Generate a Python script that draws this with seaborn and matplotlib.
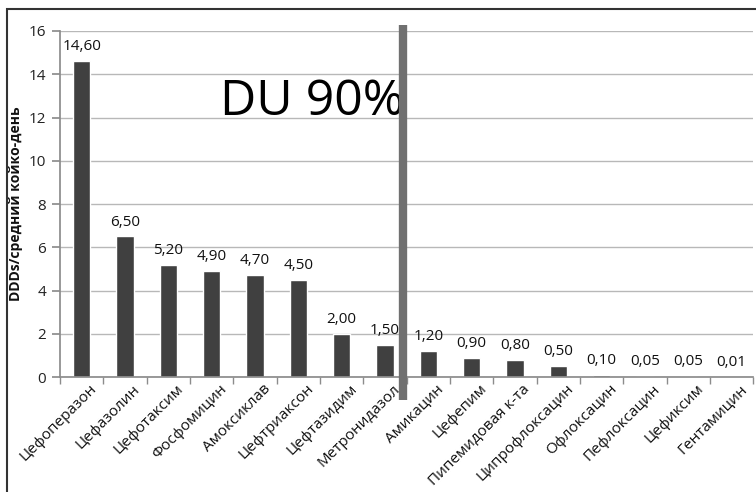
import numpy as np
import pandas as pd
import matplotlib
matplotlib.use("Agg")
import matplotlib.pyplot as plt
import matplotlib.patches as patches
import matplotlib.transforms as mtransforms
import seaborn as sns

# data
drugs = ["Цефоперазон", "Цефазолин", "Цефотаксим", "Фосфомицин", "Амоксиклав",
         "Цефтриаксон", "Цефтазидим", "Метронидазол", "Амикацин", "Цефепим",
         "Пипемидовая к-та", "Ципрофлоксацин", "Офлоксацин", "Пефлоксацин",
         "Цефиксим", "Гентамицин"]
ddd_values = [14.60, 6.50, 5.20, 4.90, 4.70, 4.50, 2.00, 1.50, 1.20, 0.90,
              0.80, 0.50, 0.10, 0.05, 0.05, 0.01]
y_ticks = [0, 2, 4, 6, 8, 10, 12, 14, 16]
du90_label = "DU 90%"
du90_pos = 7.42  # between Метронидазол and Амикацин

df = pd.DataFrame({"drug": drugs, "ddd": ddd_values})

sns.set_theme(style="white")
plt.rcParams["font.family"] = ["Open Sans", "DejaVu Sans"]

fig = plt.figure(figsize=(7.56, 4.92), dpi=100)
ax = fig.add_axes([0.0794, 0.2337, 0.917, 0.7033])

sns.barplot(data=df, x="drug", y="ddd", color="#404040", width=0.4,
            saturation=1, ax=ax)

# value labels with comma decimals
labels = [f"{v:.2f}".replace(".", ",") for v in ddd_values]
ax.bar_label(ax.containers[0], labels=labels, padding=5, fontsize=11,
             color="#111111")

ax.set_xlim(-0.5, len(drugs) - 0.5)
ax.set_ylim(0, 16)
ax.set_yticks(y_ticks)
ax.yaxis.grid(True, color="#b8b8b8", linewidth=1)
ax.set_axisbelow(True)

for s in ["top", "right"]:
    ax.spines[s].set_visible(False)
ax.spines["left"].set_color("#8c8c8c")
ax.spines["bottom"].set_color("#8c8c8c")

# ticks between categories
ax.set_xticks(np.arange(-0.5, len(drugs)), minor=True)
ax.tick_params(axis="x", which="minor", length=5, color="#8c8c8c",
               direction="out", bottom=True)
ax.tick_params(axis="x", which="major", length=0, pad=7)
ax.tick_params(axis="y", length=6, color="#8c8c8c", direction="out",
               left=True, labelsize=11, labelcolor="#222222", pad=4)

ax.set_xticks(range(len(drugs)))
ax.set_xticklabels(drugs, rotation=45, ha="right", va="center",
                   rotation_mode="anchor", fontsize=11, color="#111111")
offset = mtransforms.ScaledTranslation(13 / 100, 0, fig.dpi_scale_trans)
for lab in ax.get_xticklabels():
    lab.set_transform(lab.get_transform() + offset)

ax.set_xlabel("")
ax.set_ylabel("DDDs/средний койко-день", fontsize=10, fontweight="bold",
              color="#111111", labelpad=4)

# DU 90% marker
ax.axvline(du90_pos, ymin=-0.066, ymax=1.017, color="#707070", linewidth=6,
           solid_capstyle="butt", clip_on=False, zorder=5)
ax.text(3.2, 12.1, du90_label, fontsize=36, ha="left", va="baseline",
        color="#000000")

# outer frame
fig.patches.append(patches.Rectangle((7 / 756, -0.1), 1.2, 1.1 - 9 / 492,
                                     transform=fig.transFigure, fill=False,
                                     edgecolor="#333333", linewidth=1.5))

fig.savefig("out.png", dpi=100)
